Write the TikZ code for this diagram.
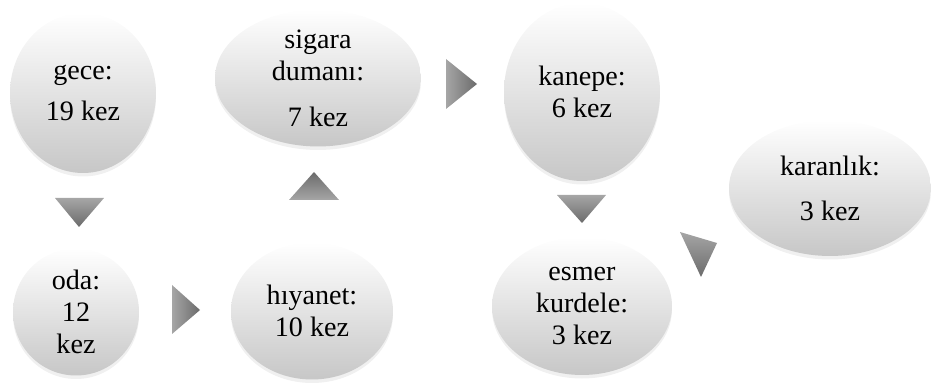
\documentclass[tikz,border=0pt]{standalone}
\usepackage{fontspec}
\setmainfont{Liberation Serif}
\usetikzlibrary{shapes.geometric,shadows}

\tikzset{
  bubble/.style={ellipse,inner sep=0pt,align=center,top color=white,bottom color=black!22,
    drop shadow={opacity=0.12,shadow xshift=0pt,shadow yshift=-2pt},
    font=\fontsize{16}{18.2}\selectfont},
  arrowtri/.style={draw=none}
}

\begin{document}
\begin{tikzpicture}[x=0.02cm,y=-0.02cm]
  \useasboundingbox (0,0) rectangle (931,385);
  % ellipses
  \node[bubble,minimum width=2.92cm,minimum height=3.2cm] (gece) at (83,93) {gece:\\[0.18cm]19 kez};
  \node[bubble,minimum width=4.12cm,minimum height=2.42cm] (sigara) at (318,78) {sigara\\dumanı:\\[0.28cm]7 kez};
  \node[bubble,minimum width=2.52cm,minimum height=2.54cm] (oda) at (76,312) {oda:\\12\\kez};
  \node[bubble,minimum width=3.24cm,minimum height=2.74cm] (hiyanet) at (312,311) {hıyanet:\\10 kez};
  \node[bubble,minimum width=3.12cm,minimum height=3.56cm] (kanepe) at (582,92) {kanepe:\\6 kez};
  \node[bubble,minimum width=3.6cm,minimum height=2.76cm] (esmer) at (582,306) {esmer\\kurdele:\\3 kez};
  \node[bubble,minimum width=4.04cm,minimum height=2.72cm] (karanlik) at (830,188) {karanlık:\\[0.26cm]3 kez};
  % arrows
  \shade[arrowtri,top color=black!35,bottom color=black!58] (55,198) -- (104,198) -- (79,227) -- cycle;
  \shade[arrowtri,left color=black!35,right color=black!58] (172,285) -- (172,334) -- (200,310) -- cycle;
  \shade[arrowtri,top color=black!58,bottom color=black!35] (289,200) -- (339,200) -- (314,172) -- cycle;
  \shade[arrowtri,left color=black!35,right color=black!58] (446,59) -- (446,109) -- (477,84) -- cycle;
  \shade[arrowtri,top color=black!35,bottom color=black!58] (557,195) -- (606,195) -- (582,223) -- cycle;
  \shade[arrowtri,top color=black!35,bottom color=black!58] (680,232) -- (717,243) -- (701,277) -- cycle;
\end{tikzpicture}
\end{document}
